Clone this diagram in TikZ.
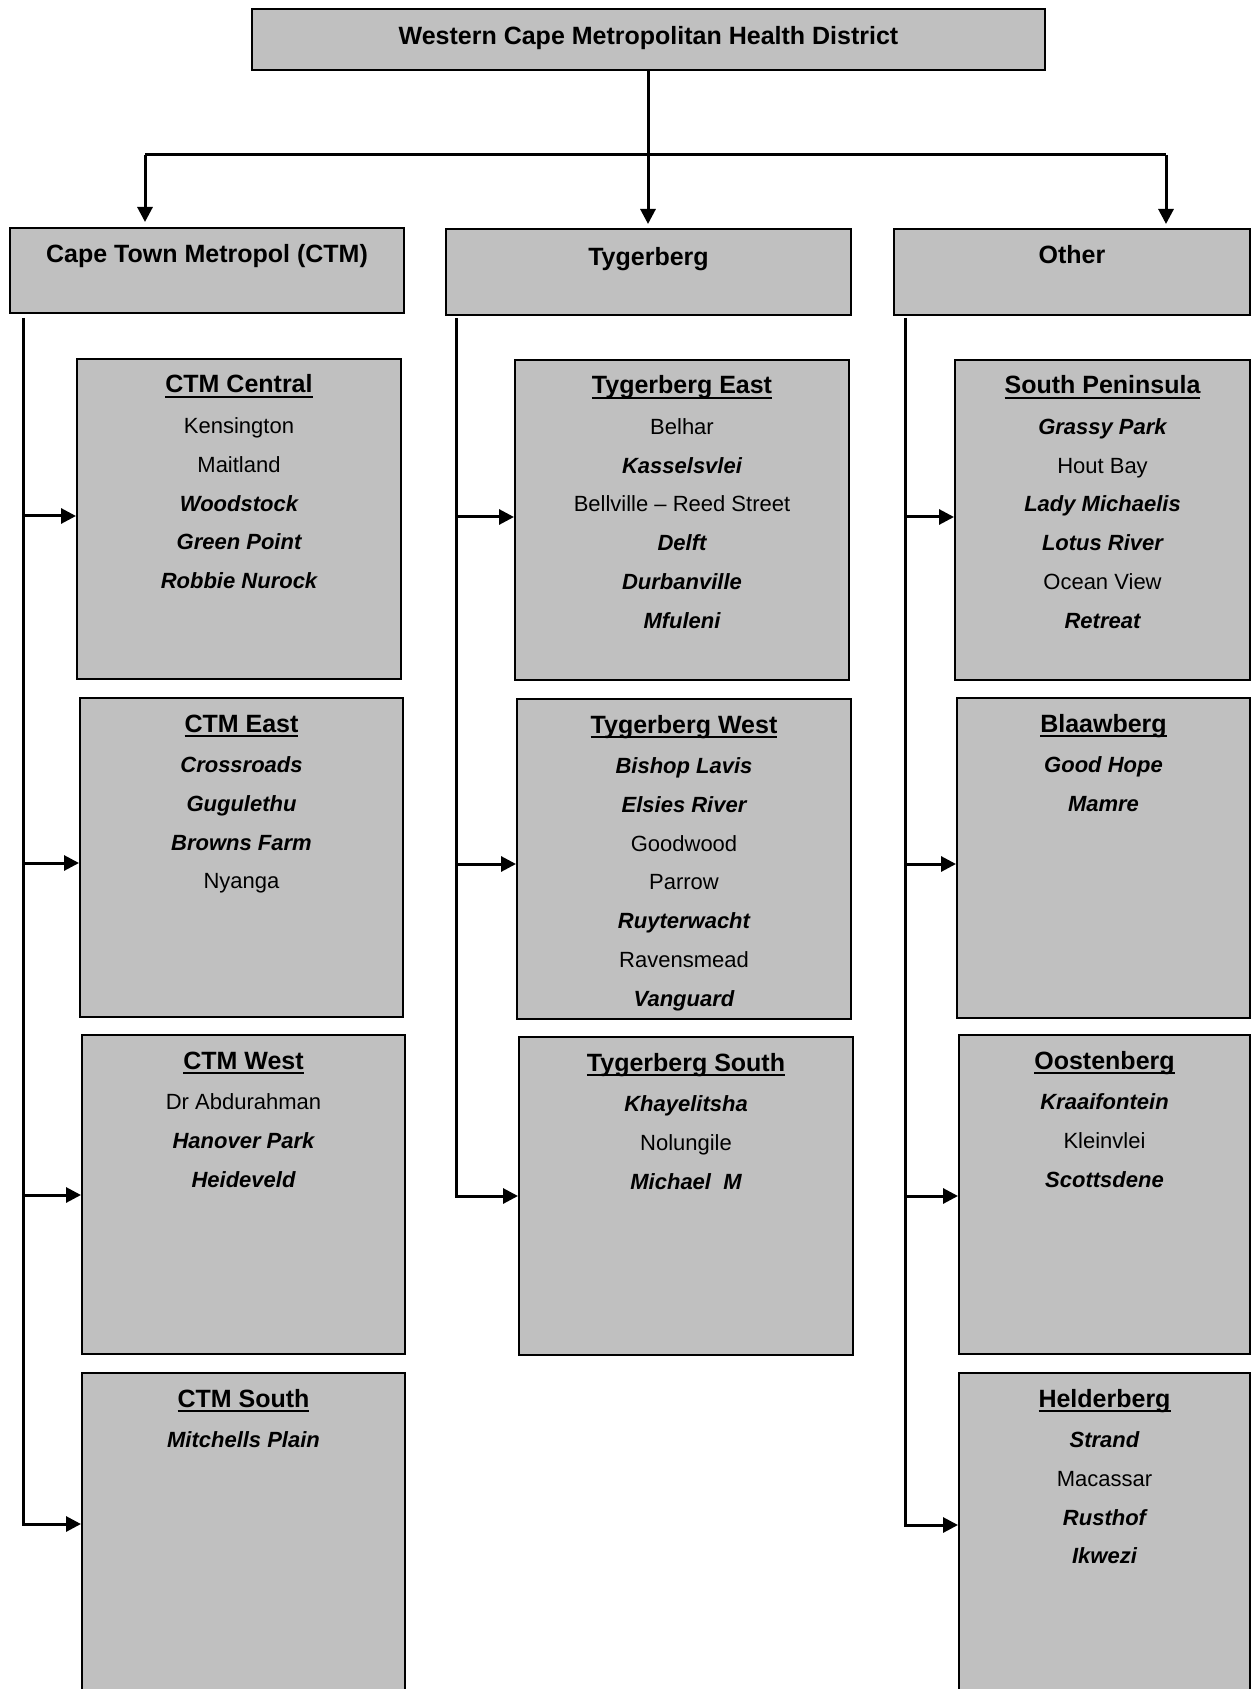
\documentclass[tikz,border=0pt]{standalone}
\usepackage{fontspec}
\setmainfont{Liberation Sans}
\usetikzlibrary{arrows.meta}
\definecolor{boxgray}{RGB}{192,192,192}
\newcommand\bi{\bfseries\itshape}
\newcommand\ulx[1]{\setbox0\hbox{#1}\rlap{\rule[-2.3pt]{\wd0}{1pt}}\box0}
\tikzset{
 bx/.style={draw=black, line width=1pt, fill=boxgray, inner sep=0pt},
 hd/.style={font=\fontsize{12.5}{15}\selectfont\bfseries, anchor=base, inner sep=0pt},
 itm/.style={font=\fontsize{11}{13}\selectfont, anchor=base, inner sep=0pt},
 conn/.style={line width=1.5pt},
 arr/.style={conn, -{Triangle[length=7.5pt,width=7.5pt]}},
}
% #1 name, #2 cx, #3 cy, #4 w(pt), #5 h(pt), #6 top y, #7 title, #8 items
\newcommand\subbox[8]{%
 \node[bx, minimum width=#4pt, minimum height=#5pt] (#1) at (#2,#3) {};
 \node[hd] (#1-t) at (#2,{#6+34}) {\ulx{#7}};
 \foreach \t [count=\i] in {#8} {\node[itm] (#1-\i) at (#2,{#6+74.5+38.75*(\i-1)}) {\t};}
}
\begin{document}
\begin{tikzpicture}[x=0.5pt,y=-0.5pt]
\useasboundingbox (0,0) rectangle (1251,1689);
\clip (0,0) rectangle (1251,1689);
% top
\node[bx, minimum width=396.5pt, minimum height=30.5pt] (top) at (648.5,39.5) {};
\node[hd] (top-t) at (648.5,44.6) {Western Cape Metropolitan Health District};
% level 2
\node[bx, minimum width=197pt, minimum height=42.5pt] (ctm) at (207,270.5) {};
\node[hd] (ctm-t) at (207,263) {Cape Town Metropol (CTM)};
\node[bx, minimum width=202.5pt, minimum height=43pt] (tyg) at (648.5,272) {};
\node[hd] (tyg-t) at (648.5,265.5) {Tygerberg};
\node[bx, minimum width=178pt, minimum height=43pt] (oth) at (1072,272) {};
\node[hd] (oth-t) at (1072,264) {Other};
% level 3 CTM
\subbox{ctmc}{239}{519}{162}{160}{359}{CTM Central}{Kensington,Maitland,{\bi Woodstock},{\bi Green Point},{\bi Robbie Nurock}}
\subbox{ctme}{241.5}{857.5}{161.5}{159.5}{698}{CTM East}{{\bi Crossroads},{\bi Gugulethu},{\bi Browns Farm},Nyanga}
\subbox{ctmw}{243.5}{1194.5}{161.5}{159.5}{1035}{CTM West}{Dr Abdurahman,{\bi Hanover Park},{\bi Heideveld}}
\subbox{ctms}{243.5}{1546.5}{161.5}{173.5}{1373}{CTM South}{{\bi Mitchells Plain}}
% level 3 Tygerberg
\subbox{tyge}{682}{520}{167}{160}{360}{Tygerberg East}{Belhar,{\bi Kasselsvlei},Bellville – Reed Street,{\bi Delft},{\bi Durbanville},{\bi Mfuleni}}
\subbox{tygw}{684}{859}{167}{160}{699}{Tygerberg West}{{\bi Bishop Lavis},{\bi Elsies River},Goodwood,Parrow,{\bi Ruyterwacht},Ravensmead,{\bi Vanguard}}
\subbox{tygs}{686}{1196}{167}{159}{1037}{Tygerberg South}{{\bi Khayelitsha},Nolungile,{\bi Michael~~M}}
% level 3 Other
\subbox{sp}{1102.5}{520}{147.5}{160}{360}{South Peninsula}{{\bi Grassy Park},Hout Bay,{\bi Lady Michaelis},{\bi Lotus River},Ocean View,{\bi Retreat}}
\subbox{bl}{1103.5}{858}{146.5}{160}{698}{Blaawberg}{{\bi Good Hope},{\bi Mamre}}
\subbox{oo}{1104.5}{1194.5}{145.5}{159.5}{1035}{Oostenberg}{{\bi Kraaifontein},Kleinvlei,{\bi Scottsdene}}
\subbox{he}{1104.5}{1546.5}{145.5}{173.5}{1373}{Helderberg}{{\bi Strand},Macassar,{\bi Rusthof},{\bi Ikwezi}}
% top connectors
\coordinate (bus) at (648,155);
\coordinate (busL) at (145,155);
\coordinate (busR) at (1166,155);
\coordinate (tipL) at (145,222);
\coordinate (tipM) at (648,224);
\coordinate (tipR) at (1166,224);
\draw[conn] (top.south -| bus) -- (bus);
\draw[conn] (busL) -- (busR);
\draw[arr] (busL) -- (tipL);
\draw[arr] (bus) -- (tipM);
\draw[arr] (busR) -- (tipR);
% CTM spine
\coordinate (s1) at (23,318);
\coordinate (s1a) at (23,516);
\coordinate (s1b) at (23,863);
\coordinate (s1c) at (23,1195);
\coordinate (s1d) at (23,1524);
\draw[arr] (s1) -- (s1d) -- (ctms.west |- s1d);
\draw[arr] (s1a) -- (ctmc.west |- s1a);
\draw[arr] (s1b) -- (ctme.west |- s1b);
\draw[arr] (s1c) -- (ctmw.west |- s1c);
% Tygerberg spine
\coordinate (s2) at (456,318);
\coordinate (s2a) at (456,517);
\coordinate (s2b) at (456,864);
\coordinate (s2c) at (456,1196);
\draw[arr] (s2) -- (s2c) -- (tygs.west |- s2c);
\draw[arr] (s2a) -- (tyge.west |- s2a);
\draw[arr] (s2b) -- (tygw.west |- s2b);
% Other spine
\coordinate (s3) at (905,318);
\coordinate (s3a) at (905,517);
\coordinate (s3b) at (905,864);
\coordinate (s3c) at (905,1196);
\coordinate (s3d) at (905,1525);
\draw[arr] (s3) -- (s3d) -- (he.west |- s3d);
\draw[arr] (s3a) -- (sp.west |- s3a);
\draw[arr] (s3b) -- (bl.west |- s3b);
\draw[arr] (s3c) -- (oo.west |- s3c);
\end{tikzpicture}
\end{document}
